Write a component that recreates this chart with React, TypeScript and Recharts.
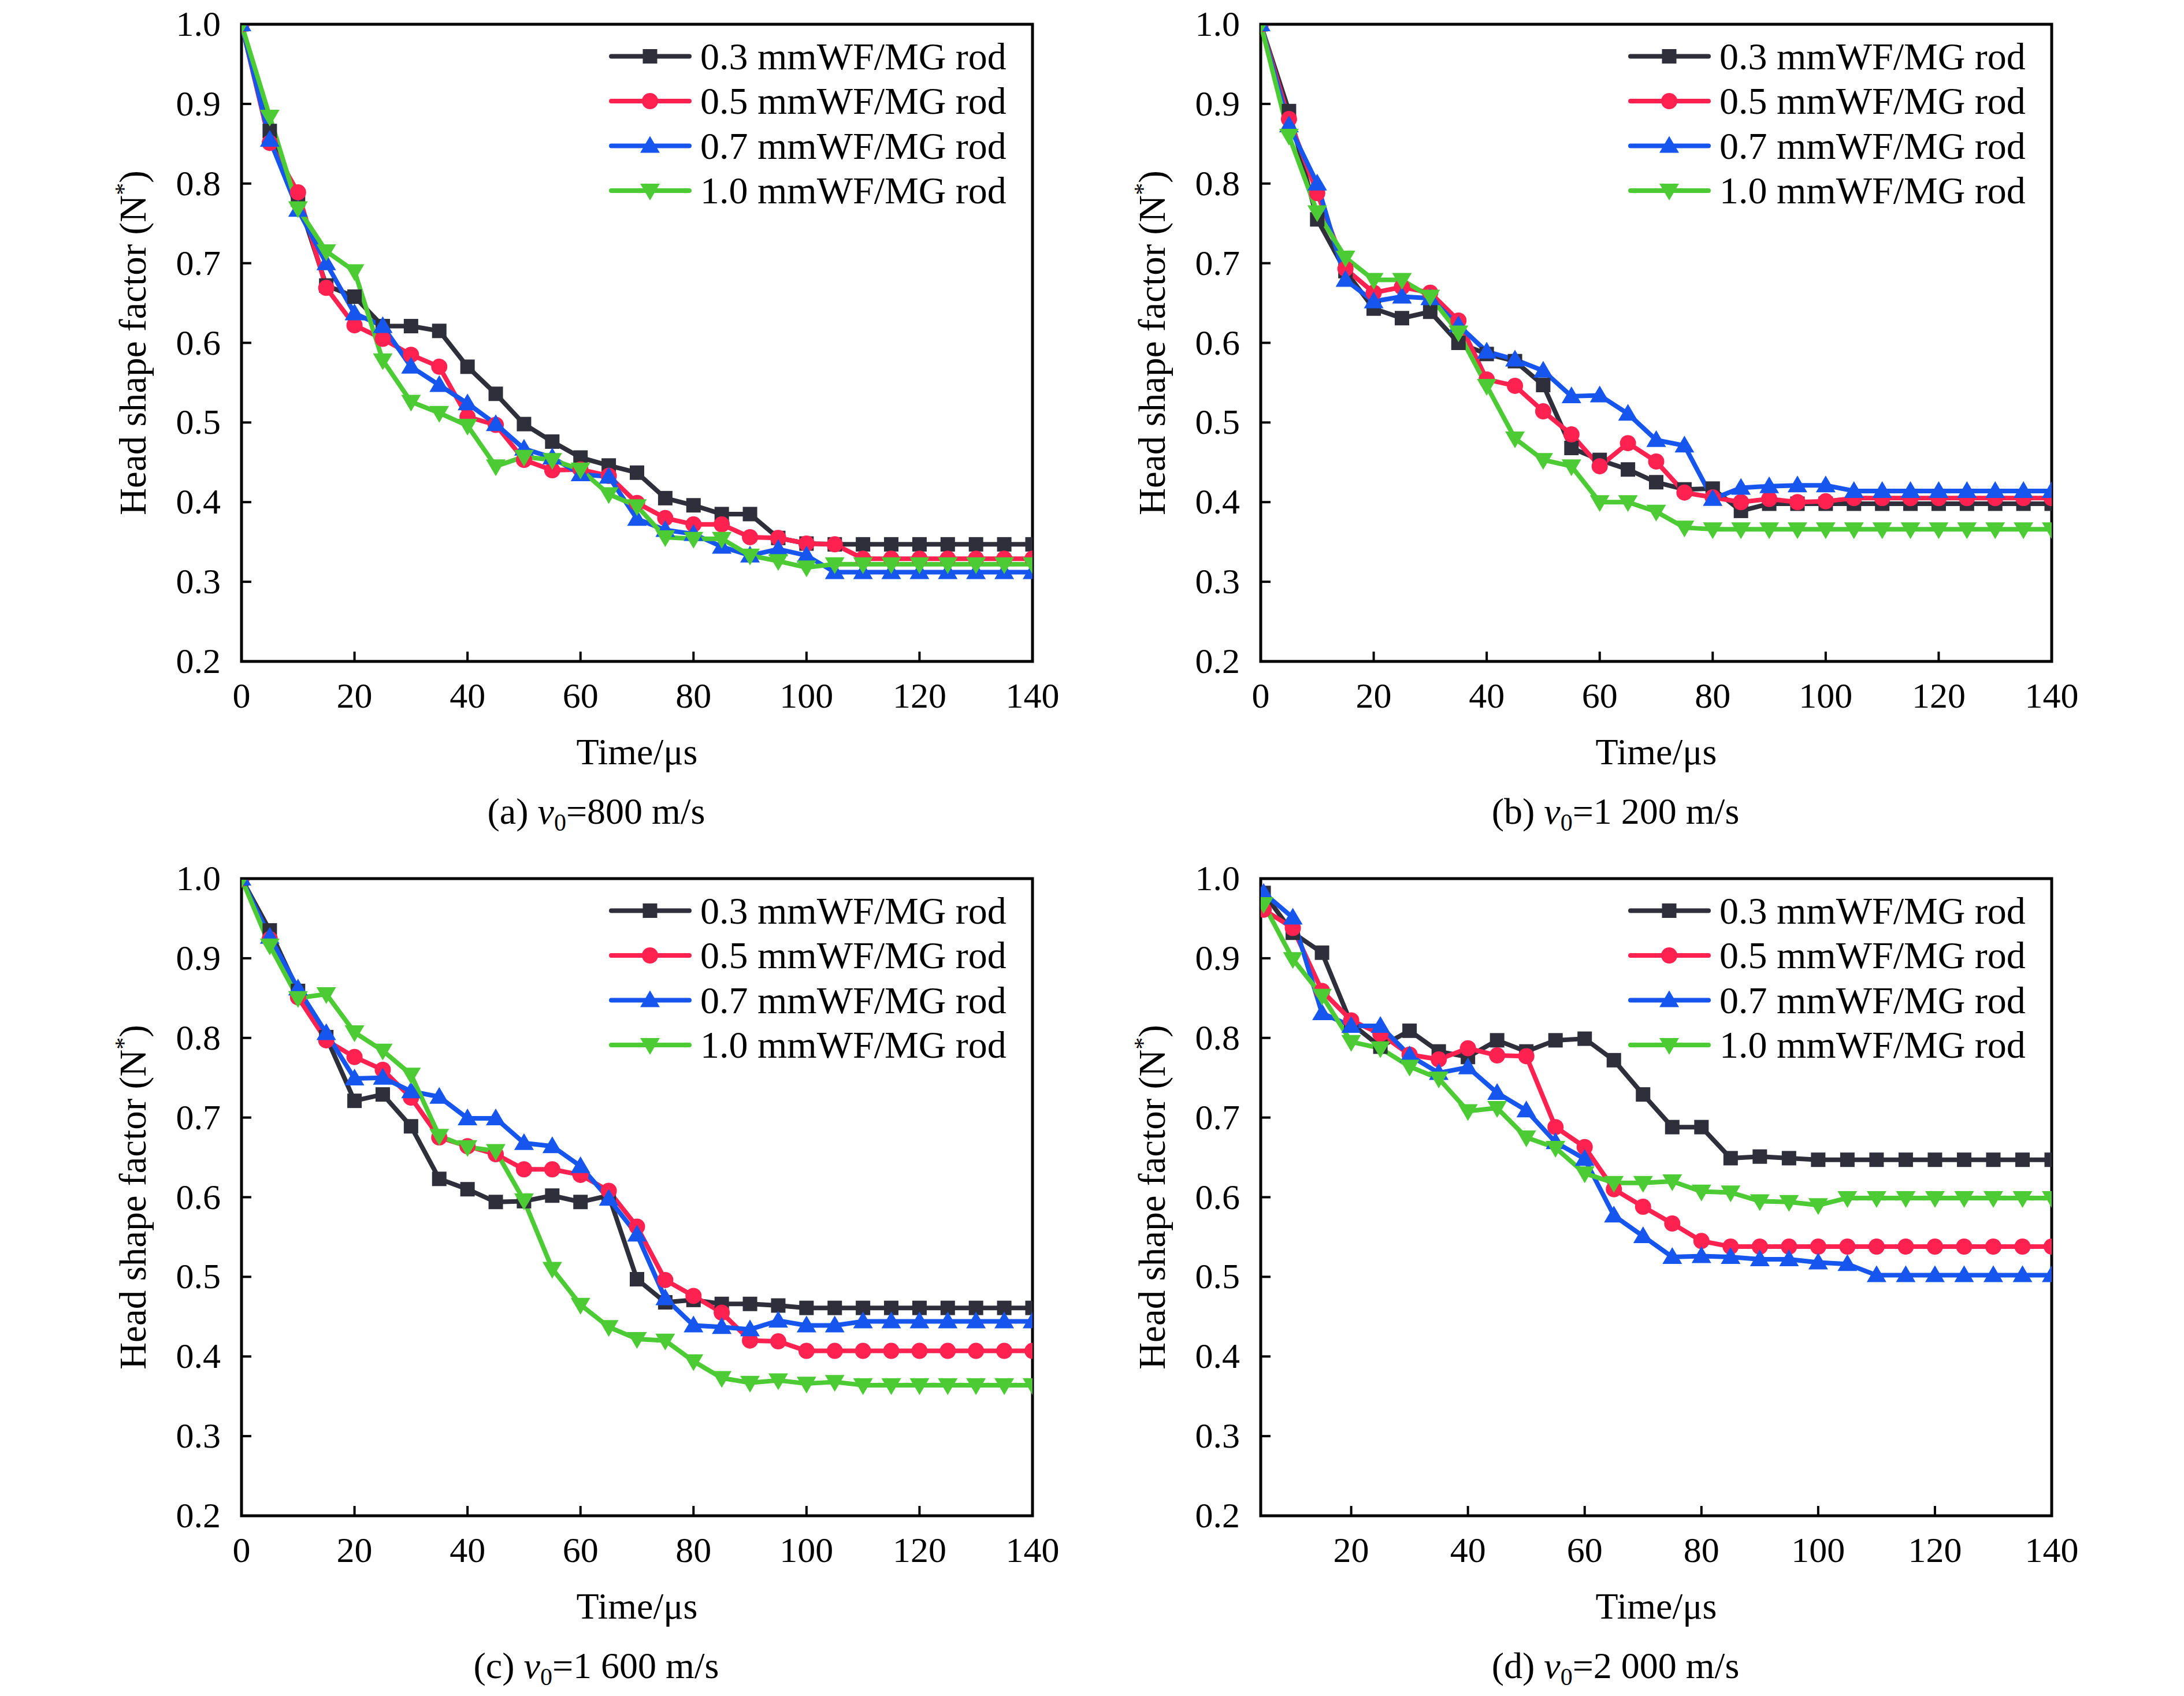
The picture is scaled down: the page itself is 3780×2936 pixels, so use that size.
import React from 'react';
import { LineChart, Line, XAxis, YAxis, ReferenceArea, Legend } from 'recharts';

// ---------------- data ----------------
const TIME = [0, 5, 10, 15, 20, 25, 30, 35, 40, 45, 50, 55, 60, 65, 70, 75, 80, 85, 90, 95, 100, 105, 110, 115, 120, 125, 130, 135, 140];
const TIME_D = [5, 10, 15, 20, 25, 30, 35, 40, 45, 50, 55, 60, 65, 70, 75, 80, 85, 90, 95, 100, 105, 110, 115, 120, 125, 130, 135, 140];
const X_TICKS = [0, 20, 40, 60, 80, 100, 120, 140];
const X_TICKS_D = [20, 40, 60, 80, 100, 120, 140];
const Y_TICKS = [0.2, 0.3, 0.4, 0.5, 0.6, 0.7, 0.8, 0.9, 1.0];
const SERIES_NAMES = ['0.3 mmWF/MG rod', '0.5 mmWF/MG rod', '0.7 mmWF/MG rod', '1.0 mmWF/MG rod'];
const CAPTION_LETTERS = ['(a)', '(b)', '(c)', '(d)'];
const CAPTION_SPEEDS = ['800 m/s', '1 200 m/s', '1 600 m/s', '2 000 m/s'];

// (a) v0 = 800 m/s
const A_03 = [1.0, 0.866, 0.78, 0.672, 0.658, 0.621, 0.621, 0.615, 0.570, 0.536, 0.498, 0.476, 0.456, 0.446, 0.437, 0.405, 0.396, 0.385, 0.385, 0.355, 0.348, 0.347, 0.347, 0.347, 0.347, 0.347, 0.347, 0.347, 0.347];
const A_05 = [1.0, 0.851, 0.789, 0.669, 0.622, 0.605, 0.585, 0.570, 0.507, 0.497, 0.453, 0.440, 0.441, 0.433, 0.399, 0.380, 0.372, 0.372, 0.356, 0.355, 0.348, 0.347, 0.329, 0.329, 0.329, 0.329, 0.329, 0.329, 0.329];
const A_07 = [1.0, 0.855, 0.767, 0.700, 0.637, 0.621, 0.570, 0.547, 0.524, 0.498, 0.467, 0.456, 0.435, 0.432, 0.379, 0.365, 0.360, 0.344, 0.333, 0.341, 0.333, 0.312, 0.312, 0.312, 0.312, 0.312, 0.312, 0.312, 0.312];
const A_10 = [1.0, 0.884, 0.769, 0.715, 0.690, 0.578, 0.526, 0.512, 0.496, 0.445, 0.457, 0.453, 0.441, 0.410, 0.395, 0.356, 0.354, 0.354, 0.333, 0.326, 0.318, 0.322, 0.322, 0.322, 0.322, 0.322, 0.322, 0.322, 0.322];

// (b) v0 = 1 200 m/s
const B_03 = [1.0, 0.891, 0.755, 0.690, 0.643, 0.631, 0.639, 0.600, 0.586, 0.577, 0.547, 0.468, 0.453, 0.441, 0.425, 0.416, 0.417, 0.389, 0.398, 0.398, 0.398, 0.398, 0.398, 0.398, 0.398, 0.398, 0.398, 0.398, 0.398];
const B_05 = [1.0, 0.881, 0.788, 0.693, 0.663, 0.670, 0.663, 0.628, 0.554, 0.546, 0.514, 0.485, 0.445, 0.474, 0.451, 0.412, 0.406, 0.400, 0.404, 0.400, 0.401, 0.405, 0.405, 0.405, 0.405, 0.405, 0.405, 0.405, 0.405];
const B_07 = [1.0, 0.873, 0.800, 0.679, 0.652, 0.658, 0.656, 0.622, 0.589, 0.579, 0.565, 0.533, 0.534, 0.511, 0.478, 0.471, 0.404, 0.418, 0.420, 0.421, 0.421, 0.414, 0.414, 0.414, 0.414, 0.414, 0.414, 0.414, 0.414];
const B_10 = [1.0, 0.860, 0.764, 0.707, 0.679, 0.679, 0.658, 0.613, 0.546, 0.480, 0.453, 0.445, 0.400, 0.400, 0.388, 0.368, 0.366, 0.366, 0.366, 0.366, 0.366, 0.366, 0.366, 0.366, 0.366, 0.366, 0.366, 0.366, 0.366];

// (c) v0 = 1 600 m/s
const C_03 = [1.0, 0.935, 0.859, 0.801, 0.721, 0.729, 0.689, 0.623, 0.610, 0.594, 0.595, 0.602, 0.594, 0.602, 0.497, 0.468, 0.471, 0.466, 0.466, 0.464, 0.461, 0.461, 0.461, 0.461, 0.461, 0.461, 0.461, 0.461, 0.461];
const C_05 = [1.0, 0.924, 0.851, 0.797, 0.776, 0.760, 0.725, 0.675, 0.664, 0.654, 0.635, 0.635, 0.628, 0.608, 0.563, 0.496, 0.476, 0.455, 0.420, 0.419, 0.407, 0.407, 0.407, 0.407, 0.407, 0.407, 0.407, 0.407, 0.407];
const C_07 = [1.0, 0.927, 0.862, 0.806, 0.749, 0.750, 0.733, 0.726, 0.699, 0.699, 0.668, 0.664, 0.639, 0.598, 0.553, 0.473, 0.439, 0.437, 0.434, 0.445, 0.439, 0.439, 0.444, 0.444, 0.444, 0.444, 0.444, 0.444, 0.444];
const C_10 = [1.0, 0.916, 0.850, 0.855, 0.807, 0.784, 0.754, 0.677, 0.663, 0.658, 0.596, 0.510, 0.465, 0.437, 0.422, 0.420, 0.394, 0.373, 0.367, 0.370, 0.366, 0.368, 0.364, 0.364, 0.364, 0.364, 0.364, 0.364, 0.364];

// (d) v0 = 2 000 m/s (starts at 5 us)
const D_03 = [0.982, 0.932, 0.907, 0.818, 0.789, 0.809, 0.783, 0.776, 0.797, 0.783, 0.797, 0.799, 0.772, 0.729, 0.688, 0.688, 0.649, 0.651, 0.649, 0.647, 0.647, 0.647, 0.647, 0.647, 0.647, 0.647, 0.647, 0.647];
const D_05 = [0.961, 0.938, 0.859, 0.822, 0.805, 0.779, 0.773, 0.787, 0.778, 0.777, 0.688, 0.663, 0.610, 0.588, 0.567, 0.545, 0.538, 0.538, 0.538, 0.538, 0.538, 0.538, 0.538, 0.538, 0.538, 0.538, 0.538, 0.538];
const D_07 = [0.982, 0.951, 0.831, 0.815, 0.815, 0.778, 0.756, 0.763, 0.731, 0.709, 0.669, 0.648, 0.577, 0.551, 0.525, 0.526, 0.525, 0.522, 0.522, 0.518, 0.516, 0.502, 0.502, 0.502, 0.502, 0.502, 0.502, 0.502];
const D_10 = [0.968, 0.899, 0.853, 0.795, 0.787, 0.764, 0.749, 0.708, 0.712, 0.675, 0.662, 0.630, 0.618, 0.618, 0.620, 0.607, 0.606, 0.595, 0.594, 0.590, 0.599, 0.599, 0.599, 0.599, 0.599, 0.599, 0.599, 0.599];

// ---------------- styles ----------------
const FONT = "'Liberation Serif', 'Times New Roman', serif";
const COLORS = ['#2F2F3B', '#FF2150', '#1656EE', '#4CCB35'];
const SHAPES = ['square', 'circle', 'up', 'down'];
const KEYS = ['s03', 's05', 's07', 's10'];

const CW = 1890;
const CH = 1460;
const PLOT_L = 418;
const PLOT_T = 42;
const PLOT_R = 1787;
const PLOT_B = 1145;
const X_AXIS_H = CH - PLOT_B;

const PANELS = [
  { time: TIME, series: [A_03, A_05, A_07, A_10], domain: [0, 140], ticks: X_TICKS, left: 0, top: 0 },
  { time: TIME, series: [B_03, B_05, B_07, B_10], domain: [0, 140], ticks: X_TICKS, left: 1764, top: 0 },
  { time: TIME, series: [C_03, C_05, C_07, C_10], domain: [0, 140], ticks: X_TICKS, left: 0, top: 1479 },
  { time: TIME_D, series: [D_03, D_05, D_07, D_10], domain: [4.5, 140], ticks: X_TICKS_D, left: 1764, top: 1479 },
];

function Marker({ shape, cx, cy, color }: any) {
  if (cx == null || cy == null || isNaN(cx) || isNaN(cy)) return null;
  if (shape === 'square') return <rect x={cx - 12.5} y={cy - 12.5} width={25} height={25} fill={color} />;
  if (shape === 'circle') return <circle cx={cx} cy={cy} r={14} fill={color} />;
  if (shape === 'up')
    return <polygon points={`${cx},${cy - 17} ${cx - 17},${cy + 12} ${cx + 17},${cy + 12}`} fill={color} />;
  return <polygon points={`${cx},${cy + 17} ${cx - 17},${cy - 12} ${cx + 17},${cy - 12}`} fill={color} />;
}

function XTick(props: any) {
  const { x, payload } = props;
  return (
    <g>
      <line x1={x} x2={x} y1={PLOT_B} y2={PLOT_B - 17} stroke="#000" strokeWidth={4} />
      <text x={x} y={PLOT_B + 80} textAnchor="middle" fontSize={62} fontFamily={FONT} fill="#000">
        {String(payload.value)}
      </text>
    </g>
  );
}

function YTick(props: any) {
  const { y, payload } = props;
  return (
    <g>
      <line x1={PLOT_L} x2={PLOT_L + 17} y1={y} y2={y} stroke="#000" strokeWidth={4} />
      <text x={PLOT_L - 36} y={y + 20} textAnchor="end" fontSize={62} fontFamily={FONT} fill="#000">
        {Number(payload.value).toFixed(1)}
      </text>
    </g>
  );
}

function YTitle() {
  const x = PLOT_L - 166;
  const y = (PLOT_T + PLOT_B) / 2;
  return (
    <text
      x={x}
      y={y}
      transform={`rotate(-90, ${x}, ${y})`}
      textAnchor="middle"
      fontSize={65}
      fontFamily={FONT}
      fill="#000"
    >
      Head shape factor (N<tspan fontSize={42} dy={-24}>*</tspan>
      <tspan dy={24}>)</tspan>
    </text>
  );
}

function XTitle({ idx }: any) {
  const cx = (PLOT_L + PLOT_R) / 2;
  return (
    <g>
      <text x={cx} y={PLOT_B + 178} textAnchor="middle" fontSize={64} fontFamily={FONT} fill="#000">
        Time/μs
      </text>
      <text x={1032} y={PLOT_B + 281} textAnchor="middle" fontSize={64} fontFamily={FONT} fill="#000">
        {CAPTION_LETTERS[idx]}{' '}
        <tspan fontStyle="italic">v</tspan>
        <tspan fontSize={42} dy={12}>0</tspan>
        <tspan dy={-12}>={CAPTION_SPEEDS[idx]}</tspan>
      </text>
    </g>
  );
}

function LegendBox() {
  return (
    <svg width={720} height={320} style={{ display: 'block', overflow: 'visible' }}>
      {SERIES_NAMES.map((name, i) => {
        const cy = 37.5 + i * 77.5;
        return (
          <g key={name}>
            <line x1={18} x2={153} y1={cy} y2={cy} stroke={COLORS[i]} strokeWidth={8} strokeLinecap="round" />
            <Marker shape={SHAPES[i]} cx={85} cy={cy} color={COLORS[i]} />
            <text x={172} y={cy + 22} fontSize={66} fontFamily={FONT} fill="#000">
              {name}
            </text>
          </g>
        );
      })}
    </svg>
  );
}

function Panel({ idx }: any) {
  const p = PANELS[idx];
  const data = p.time.map((t, i) => ({
    t,
    s03: p.series[0][i],
    s05: p.series[1][i],
    s07: p.series[2][i],
    s10: p.series[3][i],
  }));
  return (
    <div style={{ position: 'absolute', left: p.left, top: p.top, width: CW, height: CH }}>
      <LineChart
        width={CW}
        height={CH}
        data={data}
        margin={{ top: PLOT_T, right: CW - PLOT_R, bottom: 0, left: 0 }}
      >
        <XAxis
          dataKey="t"
          type="number"
          domain={p.domain}
          ticks={p.ticks}
          interval={0}
          allowDataOverflow
          height={X_AXIS_H}
          axisLine={false}
          tickLine={false}
          tickSize={0}
          tickMargin={0}
          tick={<XTick />}
          label={<XTitle idx={idx} />}
        />
        <YAxis
          type="number"
          domain={[0.2, 1.0]}
          ticks={Y_TICKS}
          interval={0}
          allowDataOverflow
          width={PLOT_L}
          axisLine={false}
          tickLine={false}
          tickSize={0}
          tickMargin={0}
          tick={<YTick />}
          label={<YTitle />}
        />
        <ReferenceArea
          x1={p.domain[0]}
          x2={p.domain[1]}
          y1={0.2}
          y2={1.0}
          fill="none"
          fillOpacity={0}
          stroke="#000"
          strokeWidth={5}
          ifOverflow="visible"
        />
        {KEYS.map((k, i) => (
          <Line
            key={k}
            dataKey={k}
            name={SERIES_NAMES[i]}
            type="linear"
            stroke={COLORS[i]}
            strokeWidth={8}
            strokeLinejoin="round"
            isAnimationActive={false}
            activeDot={false}
            dot={(dp: any) => (
              <Marker key={`${k}-${dp.index}`} shape={SHAPES[i]} cx={dp.cx} cy={dp.cy} color={COLORS[i]} />
            )}
          />
        ))}
        <Legend
          layout="vertical"
          align="center"
          verticalAlign="middle"
          wrapperStyle={{ left: 1040, top: 60, width: 720, height: 320 }}
          content={() => <LegendBox />}
        />
      </LineChart>
    </div>
  );
}

export default function App() {
  return (
    <div
      style={{
        position: 'absolute',
        left: 0,
        top: 0,
        width: 3780,
        height: 2936,
        background: '#fff',
        overflow: 'hidden',
      }}
    >
      {[0, 1, 2, 3].map((i) => (
        <Panel key={i} idx={i} />
      ))}
    </div>
  );
}
